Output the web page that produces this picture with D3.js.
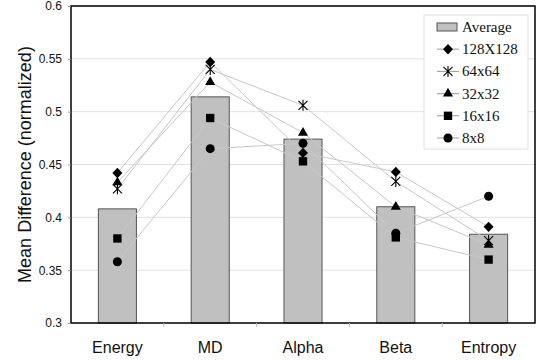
<!DOCTYPE html>
<html>
<head>
<meta charset="utf-8">
<script src="https://cdn.jsdelivr.net/npm/d3@7"></script>
<style>
  body { margin: 0; background: #fff; }
  svg { display: block; }
</style>
</head>
<body>
<svg id="chart" width="542" height="360"></svg>
<script>
const categories = ['Energy', 'MD', 'Alpha', 'Beta', 'Entropy'];
const average = [0.408, 0.514, 0.474, 0.410, 0.384];
const s128 = [0.442, 0.547, 0.461, 0.443, 0.391];
const s64 = [0.427, 0.540, 0.506, 0.434, 0.378];
const s32 = [0.433, 0.528, 0.480, 0.410, 0.374];
const s16 = [0.380, 0.494, 0.453, 0.381, 0.360];
const s8 = [0.358, 0.465, 0.470, 0.385, 0.420];
const yTicks = [0.3, 0.35, 0.4, 0.45, 0.5, 0.55, 0.6];

const series = [
  { name: '128X128', values: s128, symbol: 'diamond' },
  { name: '64x64', values: s64, symbol: 'star' },
  { name: '32x32', values: s32, symbol: 'triangle' },
  { name: '16x16', values: s16, symbol: 'square' },
  { name: '8x8', values: s8, symbol: 'circle' }
];

const margin = { left: 71, top: 6, right: 7, bottom: 37 };
const width = 542, height = 360;

const svg = d3.select('#chart');

const x = d3.scaleBand()
  .domain(categories)
  .range([margin.left, width - margin.right]);

const y = d3.scaleLinear()
  .domain([0.3, 0.6])
  .range([height - margin.bottom, margin.top]);

// grid
svg.append('g')
  .selectAll('line')
  .data(yTicks)
  .join('line')
  .attr('x1', margin.left)
  .attr('x2', width - margin.right)
  .attr('y1', d => y(d))
  .attr('y2', d => y(d))
  .attr('stroke', '#e2e2e2')
  .attr('stroke-width', 1);

// bars
svg.append('g')
  .selectAll('rect')
  .data(average)
  .join('rect')
  .attr('x', (d, i) => x(categories[i]) + x.bandwidth() * 0.295)
  .attr('width', x.bandwidth() * 0.41)
  .attr('y', d => y(d))
  .attr('height', d => y(0.3) - y(d))
  .attr('fill', '#c0c0c0')
  .attr('stroke', '#555')
  .attr('stroke-width', 1);

const cx = i => x(categories[i]) + x.bandwidth() / 2;

// series lines
const line = d3.line()
  .x((d, i) => cx(i))
  .y(d => y(d));

svg.append('g')
  .selectAll('path')
  .data(series)
  .join('path')
  .attr('d', d => line(d.values))
  .attr('fill', 'none')
  .attr('stroke', '#c8c8c8')
  .attr('stroke-width', 1);

function symbolPath(type) {
  if (type === 'diamond') return 'M0,-5.2L5,0L0,5.2L-5,0Z';
  if (type === 'triangle') return d3.symbol(d3.symbolTriangle, 44)();
  if (type === 'square') return d3.symbol(d3.symbolSquare, 70)();
  if (type === 'circle') return d3.symbol(d3.symbolCircle, 64)();
  // excel-style star: X plus vertical bar
  return 'M-4.5,-4.5L4.5,4.5M-4.5,4.5L4.5,-4.5M0,-5.5L0,5.5';
}

function drawSymbol(g, type) {
  if (type === 'star') {
    g.append('path').attr('d', symbolPath(type))
      .attr('fill', 'none').attr('stroke', '#000').attr('stroke-width', 1.1);
  } else {
    g.append('path').attr('d', symbolPath(type)).attr('fill', '#000');
  }
}

// markers
series.forEach(s => {
  const grp = svg.append('g');
  s.values.forEach((v, i) => {
    const m = grp.append('g').attr('transform', `translate(${cx(i)},${y(v)})`);
    drawSymbol(m, s.symbol);
  });
});

// frame
svg.append('rect')
  .attr('x', margin.left)
  .attr('y', margin.top)
  .attr('width', width - margin.left - margin.right)
  .attr('height', height - margin.top - margin.bottom)
  .attr('fill', 'none')
  .attr('stroke', '#000')
  .attr('stroke-width', 1.5);

// y axis
const yAxis = svg.append('g')
  .attr('transform', `translate(${margin.left},0)`)
  .call(d3.axisLeft(y).tickValues(yTicks).tickFormat(d => d3.format('')(+d.toFixed(2))).tickSize(3).tickPadding(6));
yAxis.select('.domain').remove();
yAxis.selectAll('line').attr('stroke', '#999');
yAxis.selectAll('text')
  .attr('font-family', 'Liberation Sans, Arial, sans-serif')
  .attr('font-size', 12)
  .attr('fill', '#111');

// x axis
const xAxis = svg.append('g')
  .attr('transform', `translate(0,${y(0.3)})`)
  .call(d3.axisBottom(x).tickSize(0).tickPadding(0));
xAxis.select('.domain').remove();
xAxis.selectAll('text')
  .attr('dy', null)
  .attr('y', 30)
  .attr('font-family', 'Liberation Sans, Arial, sans-serif')
  .attr('font-size', 16)
  .attr('fill', '#111');

// category boundary ticks
svg.append('g')
  .selectAll('line')
  .data(categories.slice(1))
  .join('line')
  .attr('x1', d => x(d))
  .attr('x2', d => x(d))
  .attr('y1', y(0.3))
  .attr('y2', y(0.3) + 4)
  .attr('stroke', '#bbb');

// y title
svg.append('text')
  .attr('transform', `translate(31,${(margin.top + height - margin.bottom) / 2}) rotate(-90)`)
  .attr('text-anchor', 'middle')
  .attr('font-family', 'Liberation Sans, Arial, sans-serif')
  .attr('font-size', 18)
  .attr('fill', '#111')
  .text('Mean Difference (normalized)');

// legend
const legend = svg.append('g');
legend.append('rect')
  .attr('x', 424).attr('y', 15)
  .attr('width', 104).attr('height', 134)
  .attr('fill', '#fff')
  .attr('stroke', '#e0e0e0');

const legendItems = [{ name: 'Average', symbol: 'bar' }].concat(series);
legendItems.forEach((d, i) => {
  const ly = 27 + i * 22.2;
  const g = legend.append('g');
  if (d.symbol === 'bar') {
    g.append('rect')
      .attr('x', 437).attr('y', ly - 4)
      .attr('width', 20).attr('height', 8)
      .attr('fill', '#c0c0c0').attr('stroke', '#555');
  } else {
    g.append('line')
      .attr('x1', 437).attr('x2', 459)
      .attr('y1', ly).attr('y2', ly)
      .attr('stroke', '#999');
    const m = g.append('g').attr('transform', `translate(448,${ly})`);
    drawSymbol(m, d.symbol);
  }
  g.append('text')
    .attr('x', 462).attr('y', ly + 5)
    .attr('font-family', 'Liberation Serif, Times New Roman, serif')
    .attr('font-size', 15)
    .attr('fill', '#111')
    .text(d.name);
});
</script>
</body>
</html>
